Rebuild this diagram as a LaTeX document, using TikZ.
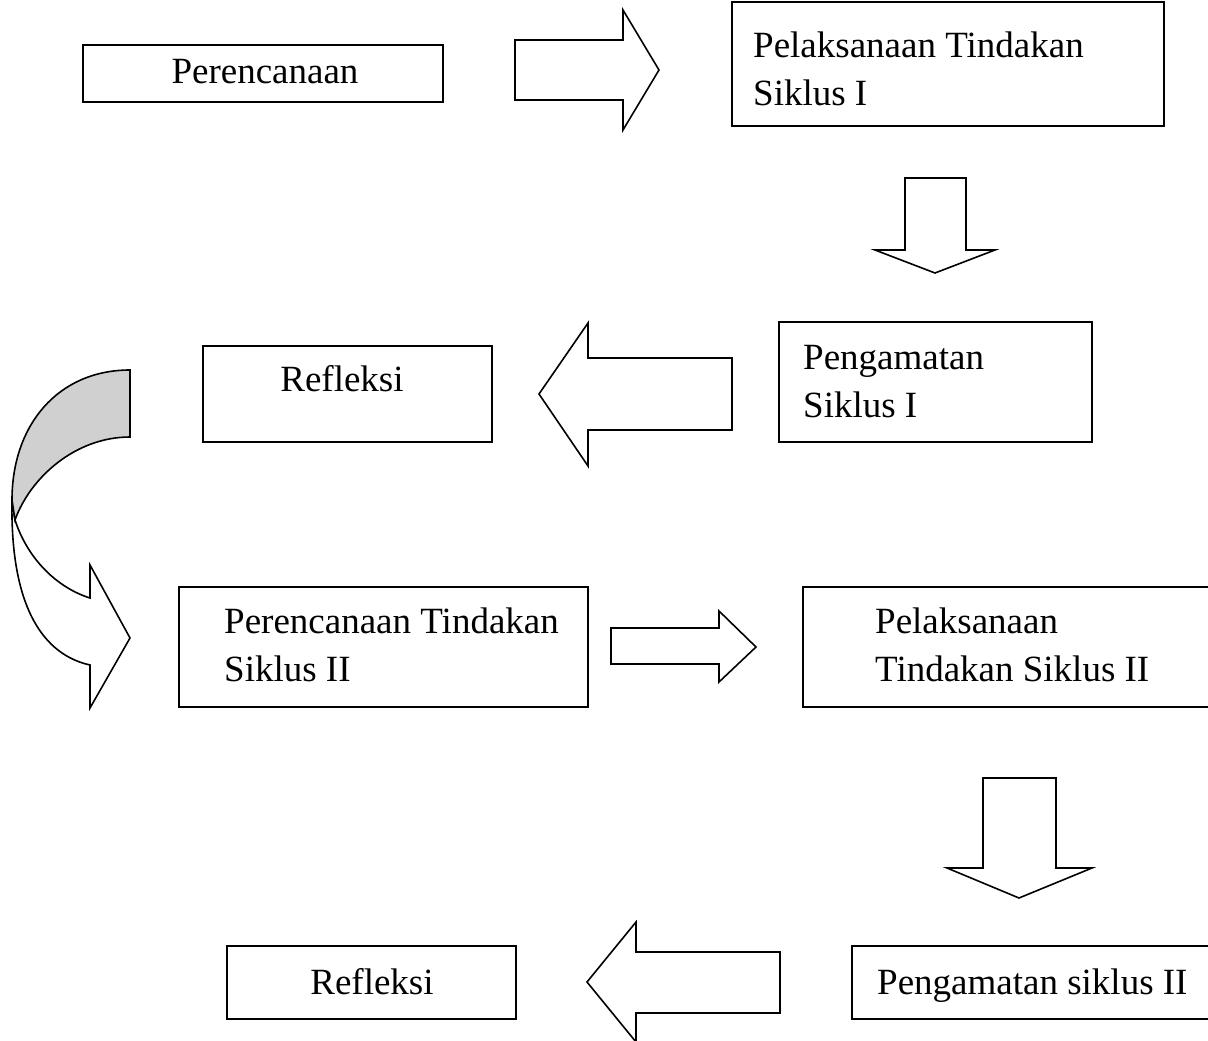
\documentclass[tikz,border=0pt]{standalone}
\usepackage{fontspec}
\setmainfont{Liberation Serif}
\begin{document}
\begin{tikzpicture}[x=1pt,y=-1pt,
  box/.style={draw=black,line width=1.6pt,inner sep=0pt,fill=white},
  txt/.style={inner sep=0pt,font=\fontsize{37}{44}\selectfont},
  blockarrow/.style={draw=black,line width=1.6pt,fill=white,line join=miter},
  backside/.style={draw=black,line width=1.6pt,fill={rgb,255:red,208;green,208;blue,208}}]
\useasboundingbox (0,0) rectangle (1208,1041);

% boxes
\node[box,minimum width=360pt,minimum height=57pt] (b1) at (263,73.5) {};
\node[box,minimum width=432pt,minimum height=124pt] (b2) at (948,64) {};
\node[box,minimum width=313pt,minimum height=120pt] (b3) at (935.5,382) {};
\node[box,minimum width=289pt,minimum height=96pt] (b4) at (347.5,394) {};
\node[box,minimum width=409pt,minimum height=120pt] (b5) at (383.5,647) {};
\node[box,minimum width=412pt,minimum height=120pt] (b6) at (1009,647) {};
\node[box,minimum width=289pt,minimum height=73pt] (b7) at (371.5,982.5) {};
\node[box,minimum width=363pt,minimum height=73pt] (b8) at (1033.5,982.5) {};

% texts
\node[txt,anchor=base] (t1) at (265,84) {Perencanaan};
\node[txt,anchor=base west] (t2a) at (753,58) {Pelaksanaan Tindakan};
\node[txt,anchor=base west] (t2b) at (753,106) {Siklus I};
\node[txt,anchor=base west] (t3a) at (803,369) {Pengamatan};
\node[txt,anchor=base west] (t3b) at (803,417) {Siklus I};
\node[txt,anchor=base] (t4) at (342,391) {Refleksi};
\node[txt,anchor=base west] (t5a) at (224,633) {Perencanaan Tindakan};
\node[txt,anchor=base west] (t5b) at (224,681) {Siklus II};
\node[txt,anchor=base west] (t6a) at (875,633) {Pelaksanaan};
\node[txt,anchor=base west] (t6b) at (875,681) {Tindakan Siklus II};
\node[txt,anchor=base] (t7) at (372,994) {Refleksi};
\node[txt,anchor=base west] (t8) at (877,994) {Pengamatan siklus II};

% block arrows
\draw[blockarrow] (515,40) -- (623,40) -- (623,10) -- (659,70) -- (623,130) -- (623,100) -- (515,100) -- cycle;
\draw[blockarrow] (905,178) -- (966,178) -- (966,250) -- (995,250) -- (935,273) -- (875,250) -- (905,250) -- cycle;
\draw[blockarrow] (732,358) -- (588,358) -- (588,323) -- (539,394) -- (588,466) -- (588,430) -- (732,430) -- cycle;
\draw[blockarrow] (611,628) -- (719,628) -- (719,611) -- (756,647) -- (719,682) -- (719,664) -- (611,664) -- cycle;
\draw[blockarrow] (983,778) -- (1056,778) -- (1056,868) -- (1092,868) -- (1019,898) -- (947,868) -- (983,868) -- cycle;
\draw[blockarrow] (780,952) -- (636,952) -- (636,922) -- (587,982) -- (636,1042) -- (636,1013) -- (780,1013) -- cycle;

% curved arrow
\draw[blockarrow] (12,500) .. controls (10,610) and (45,655) .. (90,665)
  -- (90,708) -- (130,638) -- (90,565) -- (90,598)
  .. controls (58,588) and (28,560) .. (15,520) -- cycle;
\draw[backside] (130,370) .. controls (58,370) and (12,425) .. (12,500)
  -- (15,520) .. controls (30,478) and (75,437) .. (130,437) -- cycle;
\end{tikzpicture}
\end{document}
